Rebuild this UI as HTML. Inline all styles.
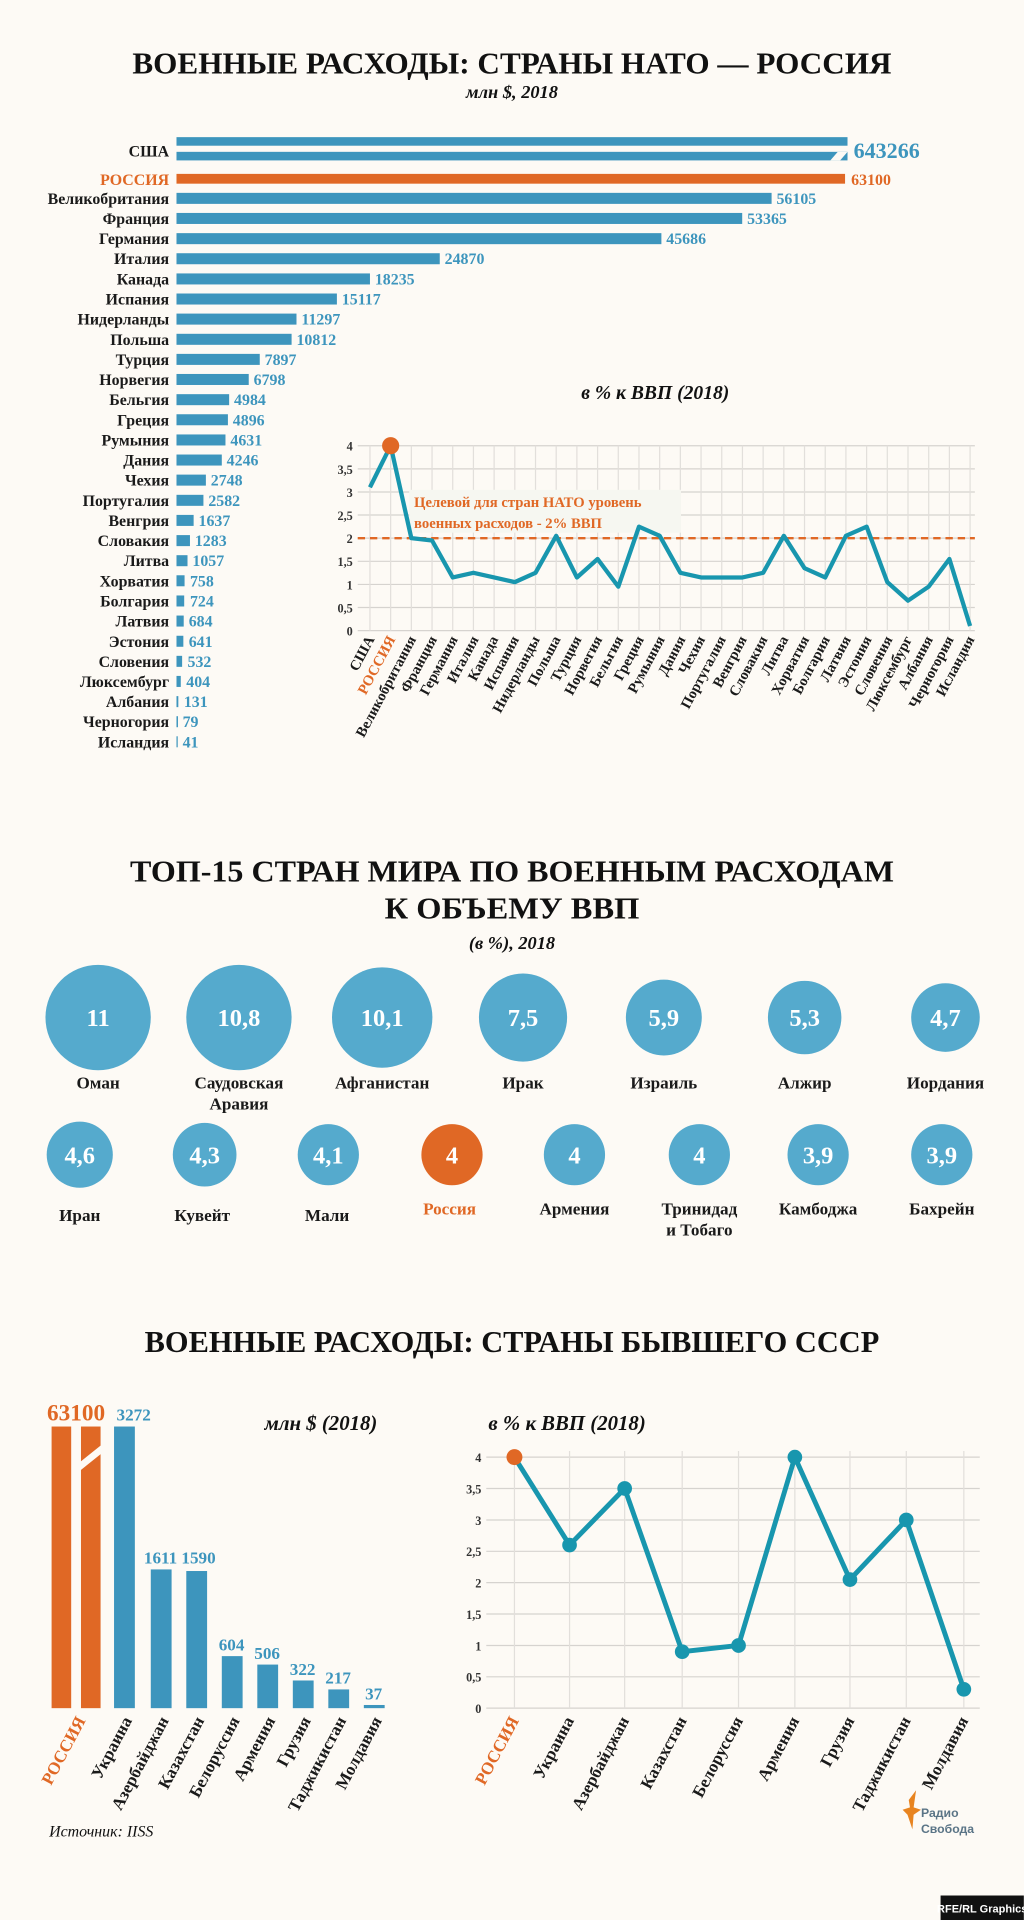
<!DOCTYPE html>
<html><head><meta charset="utf-8"><style>
html,body{margin:0;padding:0;background:#fdfaf5;}
svg{display:block;}
text{font-family:"Liberation Serif",serif;font-weight:bold;}
.t{font-size:25px;text-anchor:middle;fill:#111;}
.st{font-size:15px;font-style:italic;text-anchor:middle;fill:#111;}
.lb{font-size:13px;text-anchor:end;fill:#1a1a1a;}
.v{font-size:13px;fill:#3d95bd;}
.ax{font-size:10px;text-anchor:end;fill:#333;}
.xl{font-size:12px;text-anchor:end;fill:#1a1a1a;}
.cl{font-size:14px;text-anchor:middle;fill:#1a1a1a;}
.cv{font-size:20px;text-anchor:middle;fill:#fff;}
</style></head><body>
<svg width="1024" height="1920" viewBox="0 0 836 1568" xmlns="http://www.w3.org/2000/svg">
<rect width="836" height="1568" fill="#fdfaf5"/>
<text class="t" x="418" y="60" textLength="620" lengthAdjust="spacingAndGlyphs">ВОЕННЫЕ РАСХОДЫ: СТРАНЫ НАТО — РОССИЯ</text>
<text class="st" x="418" y="80">млн $, 2018</text>

<g fill="#3d95bd">
<rect x="144" y="112" width="548" height="7"/><rect x="144" y="124" width="548" height="7"/>
</g>
<polygon points="678,131 684,124 692,124 686,131" fill="#fdfaf5"/>
<text class="lb" x="138" y="128">США</text>
<text x="697" y="129" style="font-size:18px;fill:#3d95bd">643266</text>
<rect x="144" y="142" width="546" height="8" fill="#e06825"/>
<text class="lb" x="138" y="151" style="fill:#e06825">РОССИЯ</text>
<text x="695" y="151" style="font-size:13px;fill:#e06825">63100</text>
<g fill="#3d95bd">
<rect x="144" y="157.5" width="486" height="9"/>
<rect x="144" y="173.9" width="462" height="9"/>
<rect x="144" y="190.4" width="396" height="9"/>
<rect x="144" y="206.8" width="215" height="9"/>
<rect x="144" y="223.3" width="158" height="9"/>
<rect x="144" y="239.7" width="131" height="9"/>
<rect x="144" y="256.1" width="98" height="9"/>
<rect x="144" y="272.6" width="94" height="9"/>
<rect x="144" y="289" width="68" height="9"/>
<rect x="144" y="305.4" width="59" height="9"/>
<rect x="144" y="321.9" width="43" height="9"/>
<rect x="144" y="338.3" width="42" height="9"/>
<rect x="144" y="354.8" width="40" height="9"/>
<rect x="144" y="371.2" width="37" height="9"/>
<rect x="144" y="387.6" width="24" height="9"/>
<rect x="144" y="404.1" width="22" height="9"/>
<rect x="144" y="420.5" width="14" height="9"/>
<rect x="144" y="437" width="11" height="9"/>
<rect x="144" y="453.4" width="9" height="9"/>
<rect x="144" y="469.8" width="6.6" height="9"/>
<rect x="144" y="486.3" width="6.3" height="9"/>
<rect x="144" y="502.7" width="5.9" height="9"/>
<rect x="144" y="519.2" width="5.6" height="9"/>
<rect x="144" y="535.6" width="4.6" height="9"/>
<rect x="144" y="552" width="3.5" height="9"/>
<rect x="144" y="568.5" width="1.5" height="9"/>
<rect x="144" y="584.9" width="1.2" height="9"/>
<rect x="144" y="601.3" width="1" height="9"/>
</g>
<g>
<text class="lb" x="138" y="166.5">Великобритания</text><text class="v" x="634" y="166.5">56105</text>
<text class="lb" x="138" y="182.9">Франция</text><text class="v" x="610" y="182.9">53365</text>
<text class="lb" x="138" y="199.4">Германия</text><text class="v" x="544" y="199.4">45686</text>
<text class="lb" x="138" y="215.8">Италия</text><text class="v" x="363" y="215.8">24870</text>
<text class="lb" x="138" y="232.3">Канада</text><text class="v" x="306" y="232.3">18235</text>
<text class="lb" x="138" y="248.7">Испания</text><text class="v" x="279" y="248.7">15117</text>
<text class="lb" x="138" y="265.1">Нидерланды</text><text class="v" x="246" y="265.1">11297</text>
<text class="lb" x="138" y="281.6">Польша</text><text class="v" x="242" y="281.6">10812</text>
<text class="lb" x="138" y="298">Турция</text><text class="v" x="216" y="298">7897</text>
<text class="lb" x="138" y="314.4">Норвегия</text><text class="v" x="207" y="314.4">6798</text>
<text class="lb" x="138" y="330.9">Бельгия</text><text class="v" x="191" y="330.9">4984</text>
<text class="lb" x="138" y="347.3">Греция</text><text class="v" x="190" y="347.3">4896</text>
<text class="lb" x="138" y="363.8">Румыния</text><text class="v" x="188" y="363.8">4631</text>
<text class="lb" x="138" y="380.2">Дания</text><text class="v" x="185" y="380.2">4246</text>
<text class="lb" x="138" y="396.6">Чехия</text><text class="v" x="172" y="396.6">2748</text>
<text class="lb" x="138" y="413.1">Португалия</text><text class="v" x="170" y="413.1">2582</text>
<text class="lb" x="138" y="429.5">Венгрия</text><text class="v" x="162" y="429.5">1637</text>
<text class="lb" x="138" y="446">Словакия</text><text class="v" x="159" y="446">1283</text>
<text class="lb" x="138" y="462.4">Литва</text><text class="v" x="157" y="462.4">1057</text>
<text class="lb" x="138" y="478.8">Хорватия</text><text class="v" x="155" y="478.8">758</text>
<text class="lb" x="138" y="495.3">Болгария</text><text class="v" x="155" y="495.3">724</text>
<text class="lb" x="138" y="511.7">Латвия</text><text class="v" x="154" y="511.7">684</text>
<text class="lb" x="138" y="528.2">Эстония</text><text class="v" x="154" y="528.2">641</text>
<text class="lb" x="138" y="544.6">Словения</text><text class="v" x="153" y="544.6">532</text>
<text class="lb" x="138" y="561">Люксембург</text><text class="v" x="152" y="561">404</text>
<text class="lb" x="138" y="577.5">Албания</text><text class="v" x="150" y="577.5">131</text>
<text class="lb" x="138" y="593.9">Черногория</text><text class="v" x="149" y="593.9">79</text>
<text class="lb" x="138" y="610.3">Исландия</text><text class="v" x="149" y="610.3">41</text>
</g>

<text x="535" y="326" style="font-size:16px;font-style:italic;text-anchor:middle;fill:#111">в % к ВВП (2018)</text>
<g stroke="#d6d3cf" stroke-width="1">
<line x1="292" y1="364" x2="796" y2="364"/><line x1="292" y1="382.9" x2="796" y2="382.9"/><line x1="292" y1="401.8" x2="796" y2="401.8"/><line x1="292" y1="420.6" x2="796" y2="420.6"/><line x1="292" y1="439.5" x2="796" y2="439.5"/><line x1="292" y1="458.4" x2="796" y2="458.4"/><line x1="292" y1="477.3" x2="796" y2="477.3"/><line x1="292" y1="496.1" x2="796" y2="496.1"/><line x1="292" y1="515" x2="796" y2="515"/>
<path d="M302 364V515M318.9 364V515M335.8 364V515M352.7 364V515M369.6 364V515M386.5 364V515M403.4 364V515M420.3 364V515M437.2 364V515M454.1 364V515M471 364V515M487.9 364V515M504.8 364V515M521.7 364V515M538.6 364V515M555.5 364V515M572.4 364V515M589.3 364V515M606.2 364V515M623.1 364V515M640 364V515M656.9 364V515M673.8 364V515M690.7 364V515M707.6 364V515M724.5 364V515M741.4 364V515M758.3 364V515M775.2 364V515M792.1 364V515" stroke="#e2dfdb"/>
</g>
<g>
<text class="ax" x="288" y="368">4</text><text class="ax" x="288" y="386.9">3,5</text><text class="ax" x="288" y="405.8">3</text><text class="ax" x="288" y="424.6">2,5</text><text class="ax" x="288" y="443.5">2</text><text class="ax" x="288" y="462.4">1,5</text><text class="ax" x="288" y="481.3">1</text><text class="ax" x="288" y="500.1">0,5</text><text class="ax" x="288" y="519">0</text>
</g>
<rect x="334" y="400" width="222" height="35" fill="#f6f7f1"/>
<line x1="292" y1="439.5" x2="796" y2="439.5" stroke="#e06825" stroke-width="2" stroke-dasharray="6,4"/>
<text x="338" y="414" style="font-size:12px;fill:#e06825">Целевой для стран НАТО уровень</text>
<text x="338" y="431" style="font-size:12px;fill:#e06825">военных расходов - 2% ВВП</text>
<polyline fill="none" stroke="#1896ae" stroke-width="3.5" stroke-linejoin="round" points="302,398 318.9,364 335.8,439.5 352.7,441.4 369.6,471.6 386.5,467.8 403.4,471.6 420.3,475.4 437.2,467.8 454.1,437.6 471,471.6 487.9,456.5 504.8,479.1 521.7,430.1 538.6,437.6 555.5,467.8 572.4,471.6 589.3,471.6 606.2,471.6 623.1,467.8 640,437.6 656.9,464 673.8,471.6 690.7,437.6 707.6,430.1 724.5,475.4 741.4,490.5 758.3,479.1 775.2,456.5 792.1,511.2"/>
<circle cx="318.9" cy="364" r="7" fill="#e06825"/>
<g>
<text class="xl" transform="translate(306,522) rotate(-62)">США</text>
<text class="xl" transform="translate(323,522) rotate(-62)" style="fill:#e06825">РОССИЯ</text>
<text class="xl" transform="translate(340,522) rotate(-62)">Великобритания</text>
<text class="xl" transform="translate(357,522) rotate(-62)">Франция</text>
<text class="xl" transform="translate(374,522) rotate(-62)">Германия</text>
<text class="xl" transform="translate(391,522) rotate(-62)">Италия</text>
<text class="xl" transform="translate(407,522) rotate(-62)">Канада</text>
<text class="xl" transform="translate(424,522) rotate(-62)">Испания</text>
<text class="xl" transform="translate(441,522) rotate(-62)">Нидерланды</text>
<text class="xl" transform="translate(458,522) rotate(-62)">Польша</text>
<text class="xl" transform="translate(475,522) rotate(-62)">Турция</text>
<text class="xl" transform="translate(492,522) rotate(-62)">Норвегия</text>
<text class="xl" transform="translate(509,522) rotate(-62)">Бельгия</text>
<text class="xl" transform="translate(526,522) rotate(-62)">Греция</text>
<text class="xl" transform="translate(543,522) rotate(-62)">Румыния</text>
<text class="xl" transform="translate(560,522) rotate(-62)">Дания</text>
<text class="xl" transform="translate(576,522) rotate(-62)">Чехия</text>
<text class="xl" transform="translate(593,522) rotate(-62)">Португалия</text>
<text class="xl" transform="translate(610,522) rotate(-62)">Венгрия</text>
<text class="xl" transform="translate(627,522) rotate(-62)">Словакия</text>
<text class="xl" transform="translate(644,522) rotate(-62)">Литва</text>
<text class="xl" transform="translate(661,522) rotate(-62)">Хорватия</text>
<text class="xl" transform="translate(678,522) rotate(-62)">Болгария</text>
<text class="xl" transform="translate(695,522) rotate(-62)">Латвия</text>
<text class="xl" transform="translate(712,522) rotate(-62)">Эстония</text>
<text class="xl" transform="translate(729,522) rotate(-62)">Словения</text>
<text class="xl" transform="translate(745,522) rotate(-62)">Люксембург</text>
<text class="xl" transform="translate(762,522) rotate(-62)">Албания</text>
<text class="xl" transform="translate(779,522) rotate(-62)">Черногория</text>
<text class="xl" transform="translate(796,522) rotate(-62)">Исландия</text>
</g>

<text class="t" x="418" y="720" textLength="624" lengthAdjust="spacingAndGlyphs">ТОП-15 СТРАН МИРА ПО ВОЕННЫМ РАСХОДАМ</text>
<text class="t" x="418" y="750" textLength="208" lengthAdjust="spacingAndGlyphs">К ОБЪЕМУ ВВП</text>
<text class="st" x="418" y="775">(в %), 2018</text>
<g fill="#55aacd">
<circle cx="80" cy="831" r="43"/><circle cx="195" cy="831" r="43"/><circle cx="312" cy="831" r="41"/><circle cx="427" cy="831" r="36"/><circle cx="542" cy="831" r="31"/><circle cx="657" cy="831" r="30"/><circle cx="772" cy="831" r="28"/>
<circle cx="65" cy="943" r="27"/><circle cx="167" cy="943" r="26"/><circle cx="268" cy="943" r="25"/><circle cx="469" cy="943" r="25"/><circle cx="571" cy="943" r="25"/><circle cx="668" cy="943" r="25"/><circle cx="769" cy="943" r="25"/>
</g>
<circle cx="369" cy="943" r="25" fill="#e06825"/>
<g>
<text class="cv" x="80" y="838">11</text><text class="cv" x="195" y="838">10,8</text><text class="cv" x="312" y="838">10,1</text><text class="cv" x="427" y="838">7,5</text><text class="cv" x="542" y="838">5,9</text><text class="cv" x="657" y="838">5,3</text><text class="cv" x="772" y="838">4,7</text>
<text class="cv" x="65" y="950">4,6</text><text class="cv" x="167" y="950">4,3</text><text class="cv" x="268" y="950">4,1</text><text class="cv" x="369" y="950">4</text><text class="cv" x="469" y="950">4</text><text class="cv" x="571" y="950">4</text><text class="cv" x="668" y="950">3,9</text><text class="cv" x="769" y="950">3,9</text>
</g>
<g>
<text class="cl" x="80" y="889">Оман</text><text class="cl" x="195" y="889">Саудовская</text><text class="cl" x="195" y="906">Аравия</text><text class="cl" x="312" y="889">Афганистан</text><text class="cl" x="427" y="889">Ирак</text><text class="cl" x="542" y="889">Израиль</text><text class="cl" x="657" y="889">Алжир</text><text class="cl" x="772" y="889">Иордания</text>
<text class="cl" x="65" y="997">Иран</text><text class="cl" x="165" y="997">Кувейт</text><text class="cl" x="267" y="997">Мали</text><text class="cl" x="367" y="992" style="fill:#e06825">Россия</text><text class="cl" x="469" y="992">Армения</text><text class="cl" x="571" y="992">Тринидад</text><text class="cl" x="571" y="1009">и Тобаго</text><text class="cl" x="668" y="992">Камбоджа</text><text class="cl" x="769" y="992">Бахрейн</text>
</g>

<text class="t" x="418" y="1104" textLength="600" lengthAdjust="spacingAndGlyphs">ВОЕННЫЕ РАСХОДЫ: СТРАНЫ БЫВШЕГО СССР</text>
<text x="262" y="1168" style="font-size:17px;font-style:italic;text-anchor:middle;fill:#111">млн $ (2018)</text>
<rect x="42" y="1165" width="16" height="230" fill="#e06825"/>
<rect x="66" y="1165" width="16" height="230" fill="#e06825"/>
<polygon points="64,1195 84,1179 84,1186 64,1202" fill="#fdfaf5"/>
<text x="62" y="1160" style="font-size:19px;text-anchor:middle;fill:#e06825">63100</text>
<g fill="#3d95bd">
<rect x="93" y="1165" width="17" height="230"/><rect x="123" y="1281.7" width="17" height="113.3"/><rect x="152" y="1283" width="17" height="112"/><rect x="181" y="1352.5" width="17" height="42.5"/><rect x="210" y="1359.4" width="17" height="35.6"/><rect x="239" y="1372.4" width="17" height="22.6"/><rect x="268" y="1379.7" width="17" height="15.3"/><rect x="297" y="1392.4" width="17" height="2.6"/>
</g>
<g>
<text x="109" y="1160" style="font-size:14px;fill:#3d95bd;text-anchor:middle">3272</text>
<text x="131" y="1277" style="font-size:14px;fill:#3d95bd;text-anchor:middle">1611</text>
<text x="162" y="1277" style="font-size:14px;fill:#3d95bd;text-anchor:middle">1590</text>
<text x="189" y="1348" style="font-size:14px;fill:#3d95bd;text-anchor:middle">604</text>
<text x="218" y="1355" style="font-size:14px;fill:#3d95bd;text-anchor:middle">506</text>
<text x="247" y="1368" style="font-size:14px;fill:#3d95bd;text-anchor:middle">322</text>
<text x="276" y="1375" style="font-size:14px;fill:#3d95bd;text-anchor:middle">217</text>
<text x="305" y="1388" style="font-size:14px;fill:#3d95bd;text-anchor:middle">37</text>
</g>
<g>
<text class="xl" transform="translate(70,1405) rotate(-62)" style="fill:#e06825;font-size:14px">РОССИЯ</text>
<text class="xl" transform="translate(108,1405) rotate(-62)" style="font-size:14px">Украина</text>
<text class="xl" transform="translate(138,1405) rotate(-62)" style="font-size:14px">Азербайджан</text>
<text class="xl" transform="translate(167,1405) rotate(-62)" style="font-size:14px">Казахстан</text>
<text class="xl" transform="translate(196,1405) rotate(-62)" style="font-size:14px">Белоруссия</text>
<text class="xl" transform="translate(225,1405) rotate(-62)" style="font-size:14px">Армения</text>
<text class="xl" transform="translate(254,1405) rotate(-62)" style="font-size:14px">Грузия</text>
<text class="xl" transform="translate(283,1405) rotate(-62)" style="font-size:14px">Таджикистан</text>
<text class="xl" transform="translate(312,1405) rotate(-62)" style="font-size:14px">Молдавия</text>
</g>

<text x="463" y="1168" style="font-size:17px;font-style:italic;text-anchor:middle;fill:#111">в % к ВВП (2018)</text>
<g stroke="#d6d3cf" stroke-width="1">
<path d="M397 1190H800M397 1215.6H800M397 1241.3H800M397 1266.9H800M397 1292.5H800M397 1318.1H800M397 1343.8H800M397 1369.4H800M397 1395H800"/>
<path d="M420 1185V1395M465 1185V1395M510 1185V1395M557 1185V1395M603 1185V1395M649 1185V1395M694 1185V1395M740 1185V1395M787 1185V1395" stroke="#e2dfdb"/>
</g>
<g>
<text class="ax" x="393" y="1194">4</text><text class="ax" x="393" y="1219.6">3,5</text><text class="ax" x="393" y="1245.3">3</text><text class="ax" x="393" y="1270.9">2,5</text><text class="ax" x="393" y="1296.5">2</text><text class="ax" x="393" y="1322.1">1,5</text><text class="ax" x="393" y="1347.8">1</text><text class="ax" x="393" y="1373.4">0,5</text><text class="ax" x="393" y="1399">0</text>
</g>
<polyline fill="none" stroke="#1896ae" stroke-width="4" stroke-linejoin="round" points="420,1190 465,1261.8 510,1215.6 557,1348.9 603,1343.8 649,1190 694,1290 740,1241.3 787,1379.6"/>
<g fill="#1896ae">
<circle cx="465" cy="1261.8" r="6"/><circle cx="510" cy="1215.6" r="6"/><circle cx="557" cy="1348.9" r="6"/><circle cx="603" cy="1343.8" r="6"/><circle cx="649" cy="1190" r="6"/><circle cx="694" cy="1290" r="6"/><circle cx="740" cy="1241.3" r="6"/><circle cx="787" cy="1379.6" r="6"/>
</g>
<circle cx="420" cy="1190" r="6.5" fill="#e06825"/>
<g>
<text class="xl" transform="translate(424,1405) rotate(-62)" style="fill:#e06825;font-size:14px">РОССИЯ</text>
<text class="xl" transform="translate(469,1405) rotate(-62)" style="font-size:14px">Украина</text>
<text class="xl" transform="translate(514,1405) rotate(-62)" style="font-size:14px">Азербайджан</text>
<text class="xl" transform="translate(561,1405) rotate(-62)" style="font-size:14px">Казахстан</text>
<text class="xl" transform="translate(607,1405) rotate(-62)" style="font-size:14px">Белоруссия</text>
<text class="xl" transform="translate(653,1405) rotate(-62)" style="font-size:14px">Армения</text>
<text class="xl" transform="translate(698,1405) rotate(-62)" style="font-size:14px">Грузия</text>
<text class="xl" transform="translate(744,1405) rotate(-62)" style="font-size:14px">Таджикистан</text>
<text class="xl" transform="translate(791,1405) rotate(-62)" style="font-size:14px">Молдавия</text>
</g>

<text x="40" y="1500" style="font-size:13px;font-style:italic;font-weight:normal;fill:#111">Источник: IISS</text>
<path d="M742 1470 L748 1462 L746 1476 L752 1478 L746 1482 L745 1494 L741 1482 L737 1478 L743 1476 Z" fill="#e88420"/>
<text x="752" y="1484" style="font-family:'Liberation Sans',sans-serif;font-size:10px;fill:#5a7486">Радио</text>
<text x="752" y="1497" style="font-family:'Liberation Sans',sans-serif;font-size:10px;fill:#5a7486">Свобода</text>
<rect x="768" y="1548" width="68" height="20" fill="#111"/>
<text x="802" y="1562" style="font-family:'Liberation Sans',sans-serif;font-size:9px;text-anchor:middle;fill:#fff">RFE/RL Graphics</text>
</svg>
</body></html>
